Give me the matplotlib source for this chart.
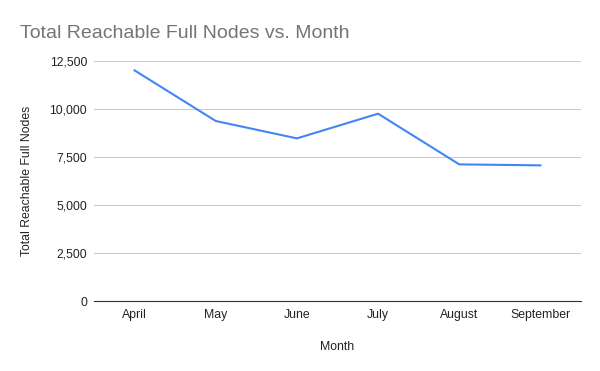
import matplotlib.pyplot as plt
from matplotlib.ticker import FuncFormatter

months = ["April", "May", "June", "July", "August", "September"]
nodes = [12010, 9375, 8470, 9755, 7115, 7065]
yticks = [0, 2500, 5000, 7500, 10000, 12500]

plt.rcParams["font.family"] = ["Liberation Sans", "DejaVu Sans"]

fig = plt.figure(figsize=(6, 3.71), dpi=100)
ax = fig.add_axes([94 / 600, 1 - 301 / 371, 487 / 600, 240 / 371])

x = range(len(months))
ax.plot(x, nodes, color="#4285F4", linewidth=1.5, solid_joinstyle="miter")

ax.set_xlim(-0.5, len(months) - 0.5)
ax.set_ylim(0, 12500)
ax.set_xticks(list(x))
ax.set_xticklabels(months)
ax.set_yticks(yticks)
ax.yaxis.set_major_formatter(FuncFormatter(lambda v, p: f"{int(v):,}"))

ax.grid(axis="y", color="#cccccc", linewidth=0.8)
ax.set_axisbelow(True)
for s in ["top", "right", "left"]:
    ax.spines[s].set_visible(False)
ax.spines["bottom"].set_color("#333333")
ax.spines["bottom"].set_linewidth(0.8)
ax.tick_params(axis="both", length=0, labelsize=8.8, colors="#222222", pad=5)
ax.tick_params(axis="x", pad=6)

ax.set_xlabel("Month", fontsize=8.8, color="#222222", labelpad=14)
ax.set_ylabel("Total Reachable Full Nodes", fontsize=8.8, color="#222222", labelpad=12)
fig.text(20 / 600, 1 - 33 / 371, "Total Reachable Full Nodes vs. Month",
         fontsize=14, color="#757575", va="center")

fig.savefig("out.png", dpi=100)
